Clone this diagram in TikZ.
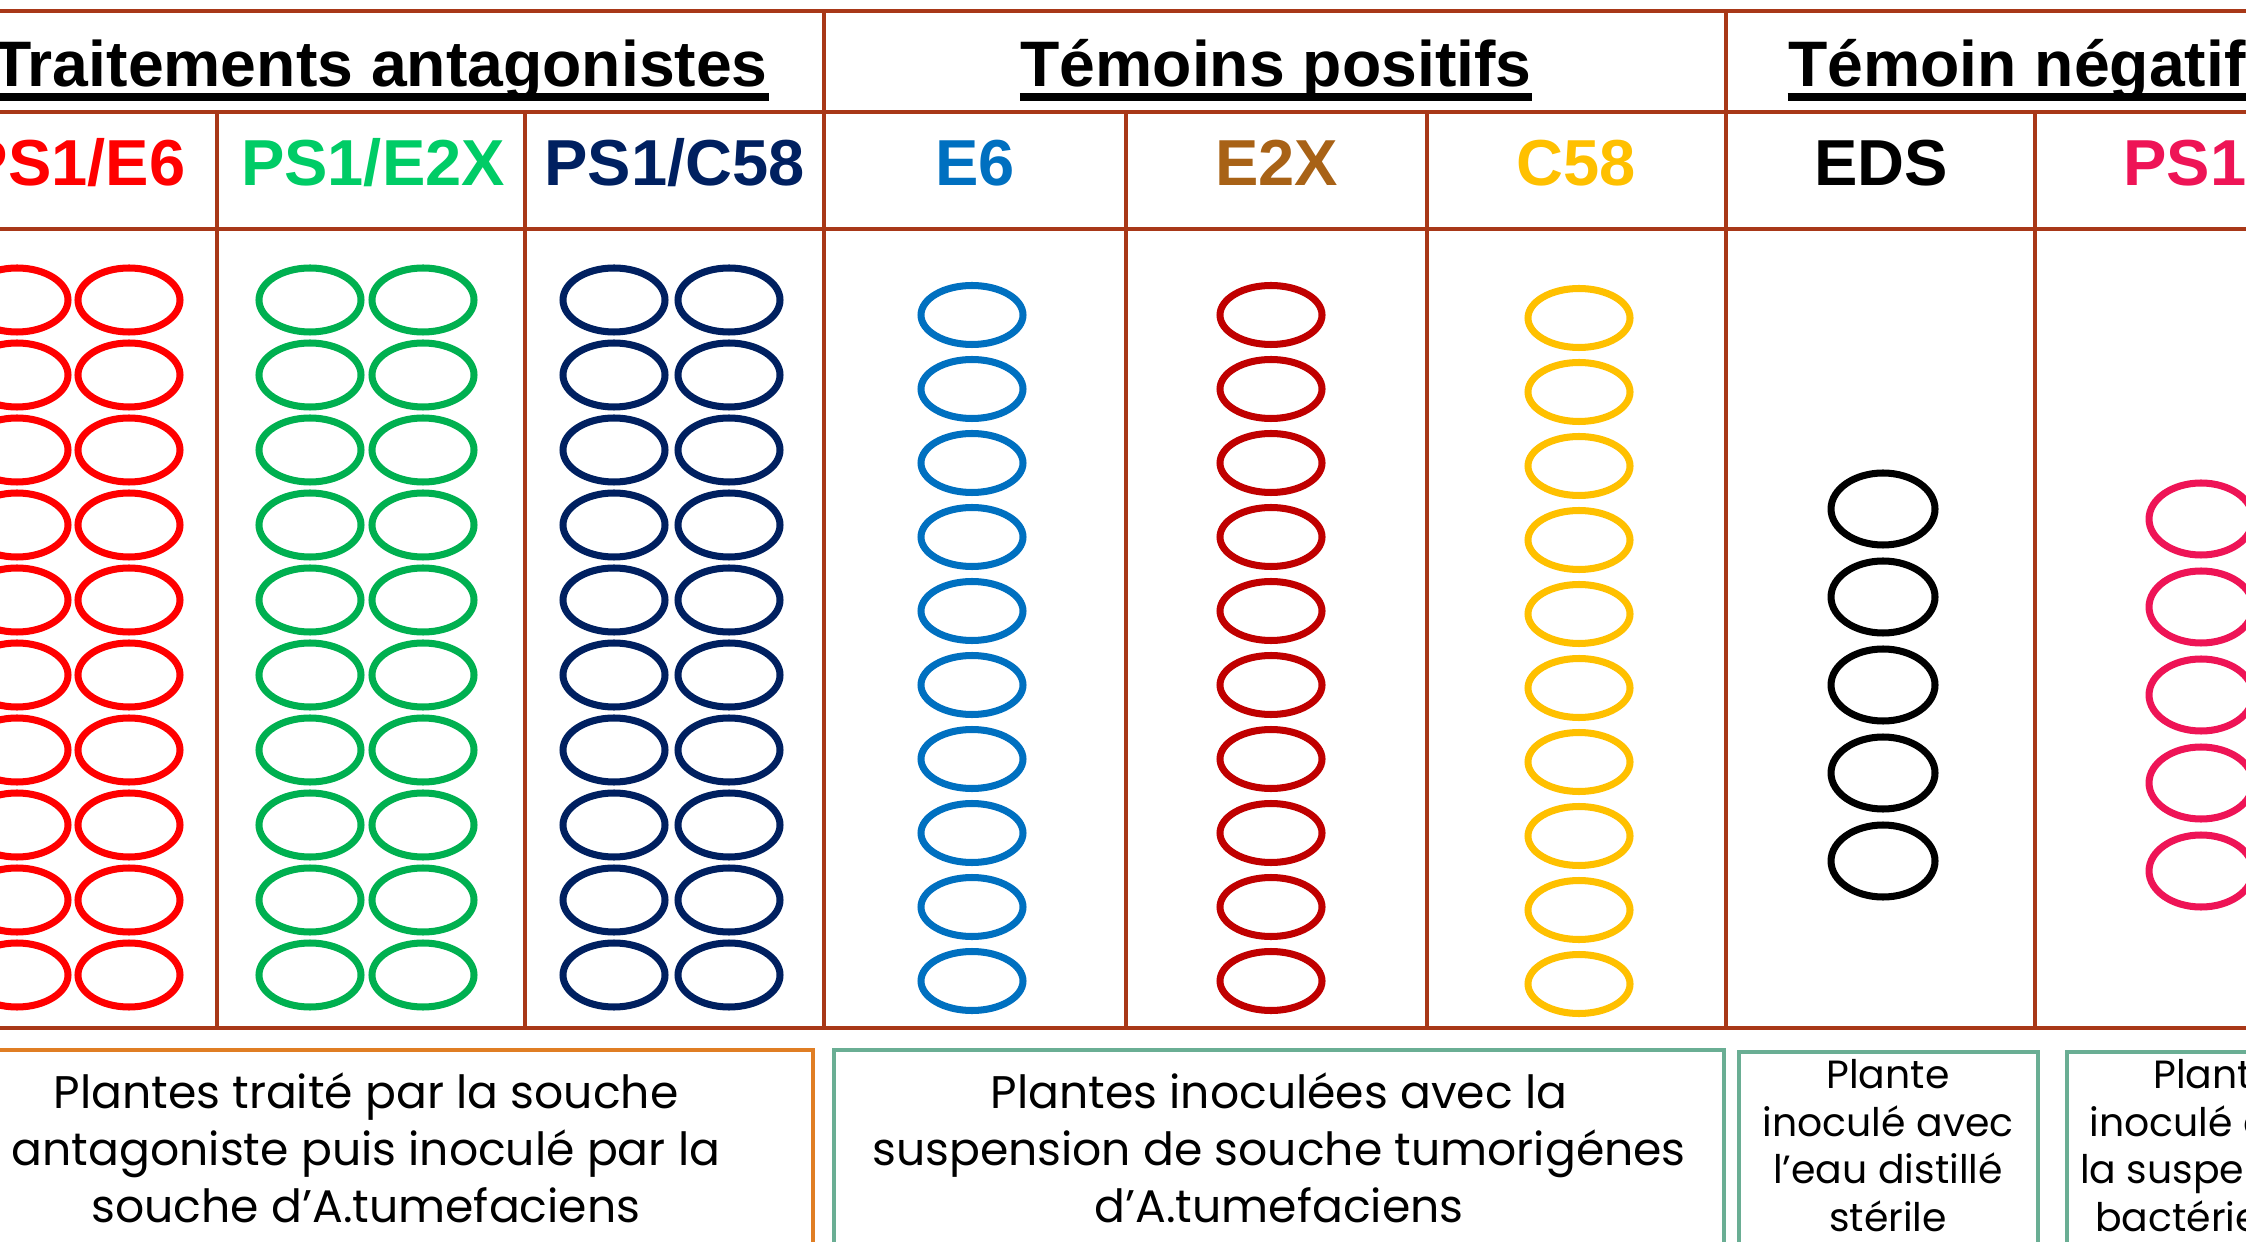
\documentclass[tikz,border=0pt]{standalone}
\usepackage{fontspec}
\usepackage{xcolor}
\setmainfont{Liberation Sans}
\newfontfamily\legendfont{Poppins}
\definecolor{gridred}{RGB}{168,56,24}
\definecolor{antred}{RGB}{255,0,0}
\definecolor{antgreen}{RGB}{0,176,80}
\definecolor{labgreen}{RGB}{0,204,102}
\definecolor{antnavy}{RGB}{0,32,96}
\definecolor{posblue}{RGB}{0,112,192}
\definecolor{labbrown}{RGB}{168,98,22}
\definecolor{posdark}{RGB}{192,0,0}
\definecolor{posgold}{RGB}{255,192,0}
\definecolor{negpink}{RGB}{238,20,86}
\definecolor{boxorange}{RGB}{224,126,36}
\definecolor{boxgreen}{RGB}{106,174,148}

\begin{document}
\begin{tikzpicture}[x=1cm, y=-1cm,
    title/.style={font=\bfseries\fontsize{18.3}{22}\selectfont, anchor=base, inner sep=0pt},
    cell/.style={font=\bfseries\fontsize{18.5}{22}\selectfont, anchor=base, inner sep=0pt},
    pot/.style={line width=2pt},
    rule/.style={gridred, line width=1pt},
    legend/.style={line width=0.9pt},
    bigtext/.style={font=\legendfont\fontsize{13}{16.2}\selectfont, align=center, anchor=north, inner sep=0pt},
    smalltext/.style={font=\legendfont\fontsize{11.2}{13.5}\selectfont, align=center, anchor=north, inner sep=0pt}]
    \useasboundingbox (0,0) rectangle (22.46,12.42);
    \clip (0,0) rectangle (22.46,12.42);

    % Draw the table
    \draw[rule] (-0.83,0.11) rectangle (23.35,10.28);
    \draw[rule] (-0.83,1.12) -- (23.35,1.12) (-0.83,2.29) -- (23.35,2.29);
    \foreach \x in {8.24,17.26} \draw[rule] (\x,0.11) -- (\x,10.28);
    \foreach \x in {2.17,5.25,11.26,14.27,20.35} \draw[rule] (\x,1.12) -- (\x,10.28);

    % Group titles
    \node[title] (trait) at (3.80,0.87) {Traitements antagonistes};
    \node[title] (pos) at (12.76,0.87) {Témoins positifs};
    \node[title] (neg) at (20.17,0.87) {Témoin négatif};
    \foreach \t in {trait,pos,neg}
        \draw[line width=2pt] ([yshift=-2.85pt]\t.base west) -- ([yshift=-2.85pt]\t.base east);

    % Column labels
    \node[cell, antred] (c1) at (0.75,1.86) {PS1/E6};
    \node[cell, labgreen] (c2) at (3.73,1.86) {PS1/E2X};
    \node[cell, antnavy] (c3) at (6.745,1.86) {PS1/C58};
    \node[cell, posblue] (c4) at (9.75,1.86) {E6};
    \node[cell, labbrown] (c5) at (12.765,1.86) {E2X};
    \node[cell, posgold] (c6) at (15.765,1.86) {C58};
    \node[cell, black] (c7) at (18.81,1.86) {EDS};
    \node[cell, negpink] (c8) at (21.85,1.86) {PS1};

    % Plants
    \foreach \x/\c in {0.17/antred,1.29/antred,3.10/antgreen,4.23/antgreen,6.14/antnavy,7.29/antnavy}
        \foreach \k in {0,...,9}
            \draw[pot, \c] (\x,3.00+0.75*\k) ellipse (0.51 and 0.32);
    \foreach \x/\y/\c in {9.72/3.15/posblue,12.71/3.15/posdark,15.79/3.18/posgold}
        \foreach \k in {0,...,9}
            \draw[pot, \c] (\x,\y+0.74*\k) ellipse (0.51 and 0.295);
    \foreach \x/\y/\c in {18.83/5.09/black,22.01/5.19/negpink}
        \foreach \k in {0,...,4}
            \draw[pot, \c] (\x,\y+0.88*\k) ellipse (0.52 and 0.36);

    % Legend boxes
    \draw[legend, boxorange] (-0.83,10.50) rectangle (8.13,12.60);
    \draw[legend, boxgreen] (8.34,10.50) rectangle (17.24,12.60);
    \draw[legend, boxgreen] (17.39,10.52) rectangle (20.38,12.60);
    \draw[legend, boxgreen] (20.67,10.52) rectangle (23.65,12.60);
    \node[bigtext] (l1) at (3.66,10.72) {Plantes traité par la souche\\antagoniste puis inoculé par la\\souche d’A.tumefaciens};
    \node[bigtext] (l2) at (12.79,10.72) {Plantes inoculées avec la\\suspension de souche tumorigénes\\d’A.tumefaciens};
    \node[smalltext] (l3) at (18.88,10.59) {Plante\\inoculé avec\\l’eau distillé\\stérile};
    \node[smalltext] (l4) at (22.15,10.59) {Plante\\inoculé avec\\la suspension\\bactérienne};
\end{tikzpicture}
\end{document}
